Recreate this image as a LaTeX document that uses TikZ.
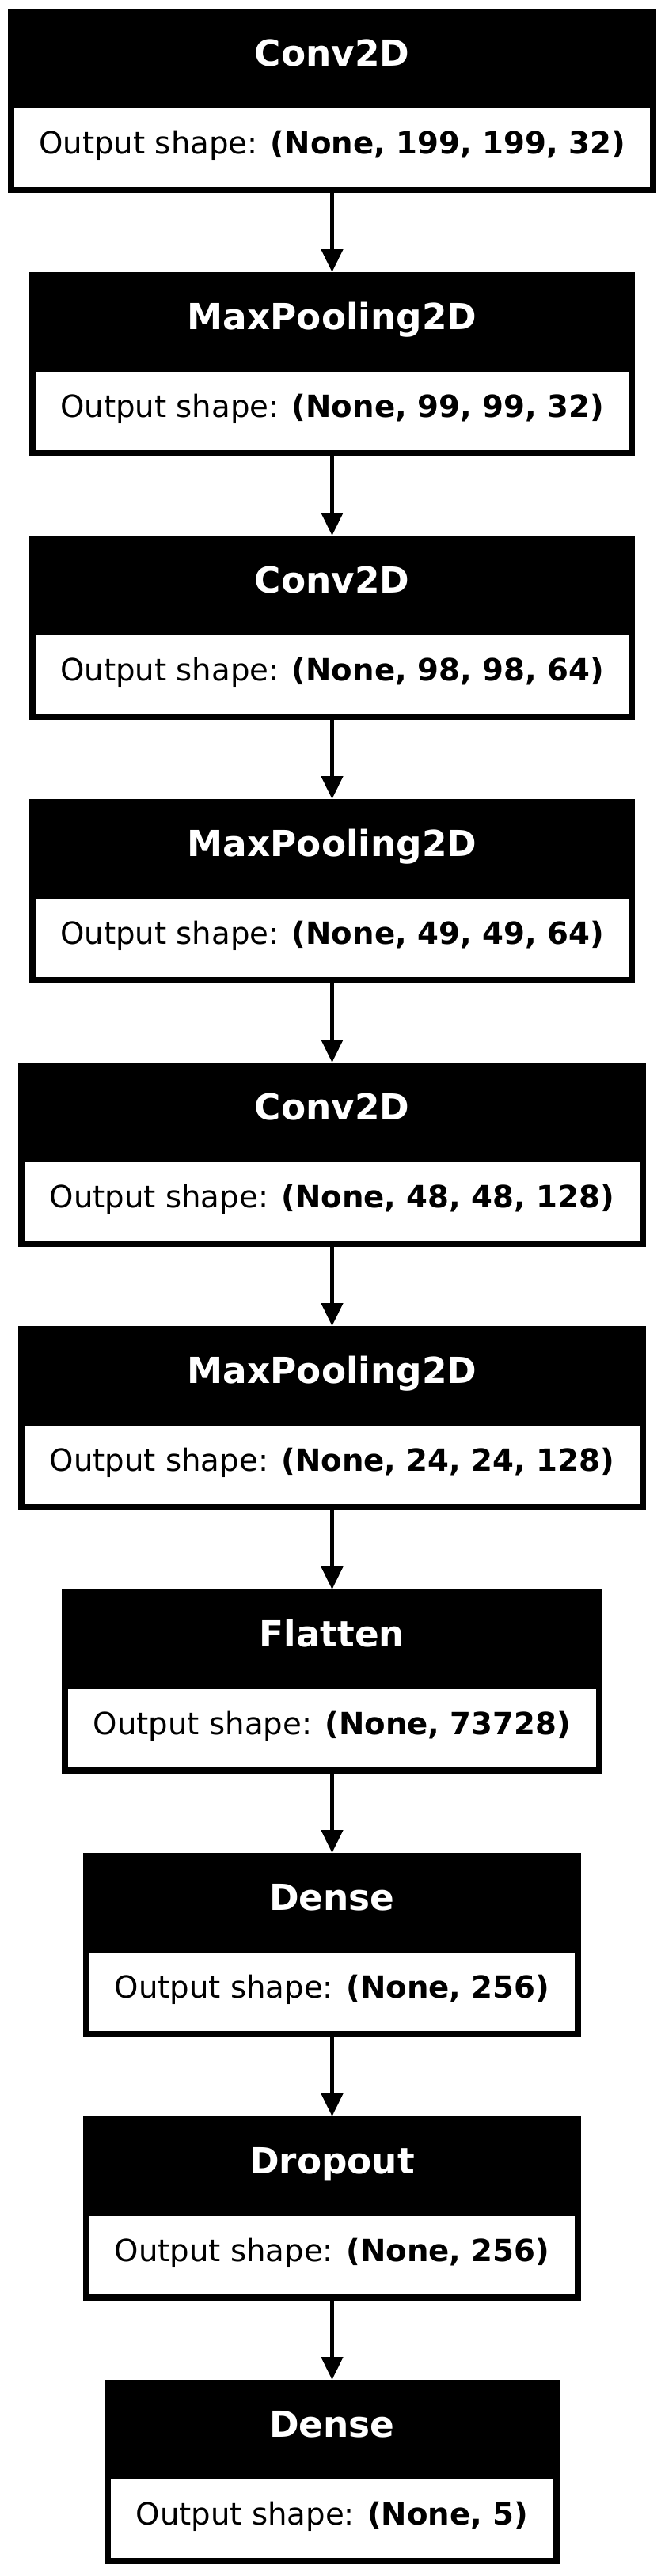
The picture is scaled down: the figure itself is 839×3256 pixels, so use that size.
\documentclass[tikz,border=0pt]{standalone}
\usepackage{fontspec}
\setmainfont{DejaVu Sans}
\usetikzlibrary{positioning,arrows.meta}

\tikzset{
  head/.style={rectangle, fill=black, text=white, font=\fontsize{34}{40}\selectfont\bfseries,
    minimum height=94.5pt, inner sep=0pt, outer sep=0pt, text height=25pt, text depth=10.5pt},
  outrow/.style={rectangle, draw=black, line width=6pt, fill=white, font=\fontsize{29}{34}\selectfont,
    minimum height=80.25pt, inner sep=0pt, text height=21pt, text depth=9pt},
  flow/.style={-{Triangle[length=21.75pt,width=20.25pt]}, line width=3.4pt},
}

\begin{document}
\begin{tikzpicture}[x=0.75pt,y=-0.75pt]
  \useasboundingbox (0,0) rectangle (839,3256);

  \node[head, minimum width=614.25pt, anchor=north] (conv1) at (419.5,11) {Conv2D};
  \node[outrow, minimum width=608.25pt, below=-6pt of conv1] (conv1out) {Output shape: \textbf{(None, 199, 199, 32)}};

  \node[head, minimum width=573.75pt, below=75pt of conv1out] (pool1) {MaxPooling2D};
  \node[outrow, minimum width=567.75pt, below=-6pt of pool1] (pool1out) {Output shape: \textbf{(None, 99, 99, 32)}};

  \node[head, minimum width=573.75pt, below=75pt of pool1out] (conv2) {Conv2D};
  \node[outrow, minimum width=567.75pt, below=-6pt of conv2] (conv2out) {Output shape: \textbf{(None, 98, 98, 64)}};

  \node[head, minimum width=573.75pt, below=75pt of conv2out] (pool2) {MaxPooling2D};
  \node[outrow, minimum width=567.75pt, below=-6pt of pool2] (pool2out) {Output shape: \textbf{(None, 49, 49, 64)}};

  \node[head, minimum width=594.75pt, below=75pt of pool2out] (conv3) {Conv2D};
  \node[outrow, minimum width=588.75pt, below=-6pt of conv3] (conv3out) {Output shape: \textbf{(None, 48, 48, 128)}};

  \node[head, minimum width=594.75pt, below=75pt of conv3out] (pool3) {MaxPooling2D};
  \node[outrow, minimum width=588.75pt, below=-6pt of pool3] (pool3out) {Output shape: \textbf{(None, 24, 24, 128)}};

  \node[head, minimum width=512.25pt, below=75pt of pool3out] (flat) {Flatten};
  \node[outrow, minimum width=506.25pt, below=-6pt of flat] (flatout) {Output shape: \textbf{(None, 73728)}};

  \node[head, minimum width=471.75pt, below=75pt of flatout] (dense1) {Dense};
  \node[outrow, minimum width=465.75pt, below=-6pt of dense1] (dense1out) {Output shape: \textbf{(None, 256)}};

  \node[head, minimum width=471.75pt, below=75pt of dense1out] (drop) {Dropout};
  \node[outrow, minimum width=465.75pt, below=-6pt of drop] (dropout) {Output shape: \textbf{(None, 256)}};

  \node[head, minimum width=431.25pt, below=75pt of dropout] (dense2) {Dense};
  \node[outrow, minimum width=425.25pt, below=-6pt of dense2] (dense2out) {Output shape: \textbf{(None, 5)}};

  \path[flow]
    (conv1out) edge (pool1)
    (pool1out) edge (conv2)
    (conv2out) edge (pool2)
    (pool2out) edge (conv3)
    (conv3out) edge (pool3)
    (pool3out) edge (flat)
    (flatout) edge (dense1)
    (dense1out) edge (drop)
    (dropout) edge (dense2);
\end{tikzpicture}
\end{document}
